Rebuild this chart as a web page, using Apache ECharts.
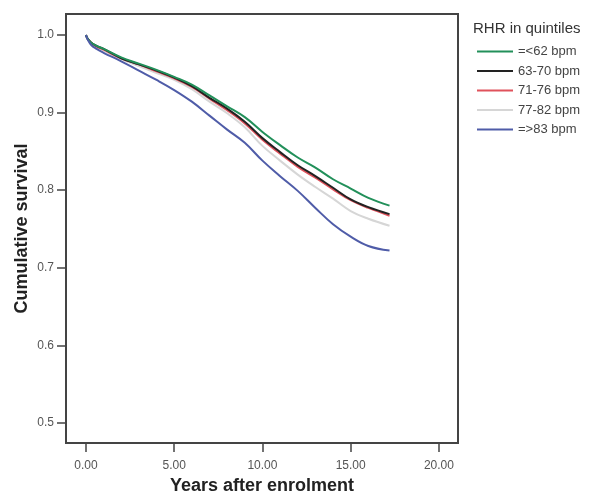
<!DOCTYPE html>
<html>
<head>
<meta charset="utf-8">
<script src="https://cdn.jsdelivr.net/npm/echarts@6/dist/echarts.min.js"></script>
<style>
html,body{margin:0;padding:0;background:#fff;}
#chart{width:597px;height:495px;}
</style>
</head>
<body>
<div id="chart"></div>
<script>
var years = [0, 0.1, 0.3, 0.6, 1, 2, 3, 4, 5, 6, 7, 8, 9, 10, 11, 12, 13, 14, 15, 16, 17.2];
var seriesNames = ['=<62 bpm', '63-70 bpm', '71-76 bpm', '77-82 bpm', '=>83 bpm'];
var rhr62 = [1.0, 0.995, 0.990, 0.986, 0.982, 0.971, 0.963, 0.955, 0.946, 0.936, 0.922, 0.908, 0.894, 0.875, 0.858, 0.842, 0.829, 0.814, 0.802, 0.790, 0.780];
var rhr63_70 = [1.0, 0.995, 0.990, 0.986, 0.982, 0.970, 0.962, 0.954, 0.945, 0.934, 0.919, 0.905, 0.888, 0.867, 0.849, 0.832, 0.818, 0.803, 0.788, 0.778, 0.769];
var rhr71_76 = [1.0, 0.995, 0.990, 0.985, 0.981, 0.970, 0.962, 0.953, 0.944, 0.933, 0.918, 0.903, 0.886, 0.865, 0.847, 0.830, 0.816, 0.801, 0.787, 0.777, 0.767];
var rhr77_82 = [1.0, 0.995, 0.989, 0.985, 0.980, 0.969, 0.960, 0.951, 0.942, 0.930, 0.914, 0.899, 0.881, 0.857, 0.838, 0.820, 0.804, 0.789, 0.773, 0.763, 0.754];
var rhr83 = [1.0, 0.994, 0.987, 0.982, 0.977, 0.966, 0.954, 0.942, 0.929, 0.914, 0.896, 0.878, 0.861, 0.838, 0.818, 0.799, 0.777, 0.756, 0.740, 0.728, 0.722];
var xTicks = [0, 5, 10, 15, 20];
var yTicks = [0.5, 0.6, 0.7, 0.8, 0.9, 1.0];

var colors = ['#22905a', '#222222', '#e0525c', '#d6d6d6', '#4f5ca8'];
var values = [rhr62, rhr63_70, rhr71_76, rhr77_82, rhr83];
var drawOrder = [3, 2, 1, 0, 4];

function pairs(arr) { return years.map(function (x, i) { return [x, arr[i]]; }); }

var series = drawOrder.map(function (k) {
  return {
    name: seriesNames[k],
    type: 'line',
    data: pairs(values[k]),
    symbol: 'none',
    smooth: 0.4,
    lineStyle: { color: colors[k], width: 2 },
    itemStyle: { color: colors[k] },
    z: 2
  };
});

var font = 'Liberation Sans, Arial, sans-serif';
var chart = echarts.init(document.getElementById('chart'), null, { renderer: 'canvas' });
chart.setOption({
  animation: false,
  backgroundColor: '#fff',
  title: {
    text: 'RHR in quintiles',
    left: 468, top: 16,
    textStyle: { fontFamily: font, fontSize: 15, fontWeight: 'normal', color: '#333' }
  },
  legend: {
    data: seriesNames,
    orient: 'vertical',
    left: 472, top: 40,
    icon: 'rect',
    itemWidth: 36, itemHeight: 2, itemGap: 6.5,
    textStyle: { fontFamily: font, fontSize: 13, color: '#444' }
  },
  grid: {
    left: 66, top: 14, right: 139, bottom: 52,
    outerBoundsMode: 'none',
    show: true, borderColor: '#444', borderWidth: 2, backgroundColor: '#fff'
  },
  xAxis: {
    type: 'value', min: -1.13, max: 21.08,
    name: 'Years after enrolment', nameLocation: 'middle', nameGap: 32,
    nameTextStyle: { fontFamily: font, fontSize: 18, fontWeight: 'bold', color: '#222' },
    axisLine: { onZero: false, lineStyle: { color: '#444', width: 2 } },
    axisTick: { show: true, inside: false, length: 9, customValues: xTicks, lineStyle: { color: '#444', width: 1.5 } },
    axisLabel: { customValues: xTicks, margin: 17, fontFamily: font, fontSize: 12, color: '#555',
      formatter: function (v) { return v.toFixed(2); } },
    splitLine: { show: false }
  },
  yAxis: {
    type: 'value', min: 0.474, max: 1.027,
    name: 'Cumulative survival', nameLocation: 'middle', nameGap: 35,
    nameMoveOverlap: false,
    nameTextStyle: { fontFamily: font, fontSize: 18, fontWeight: 'bold', color: '#222' },
    axisLine: { show: true, onZero: false, lineStyle: { color: '#444', width: 2 } },
    axisTick: { show: true, inside: false, length: 9, customValues: yTicks, lineStyle: { color: '#444', width: 1.5 } },
    axisLabel: { customValues: yTicks, margin: 12, fontFamily: font, fontSize: 12, color: '#555',
      formatter: function (v) { return v.toFixed(1); } },
    splitLine: { show: false }
  },
  series: series
});
</script>
</body>
</html>
